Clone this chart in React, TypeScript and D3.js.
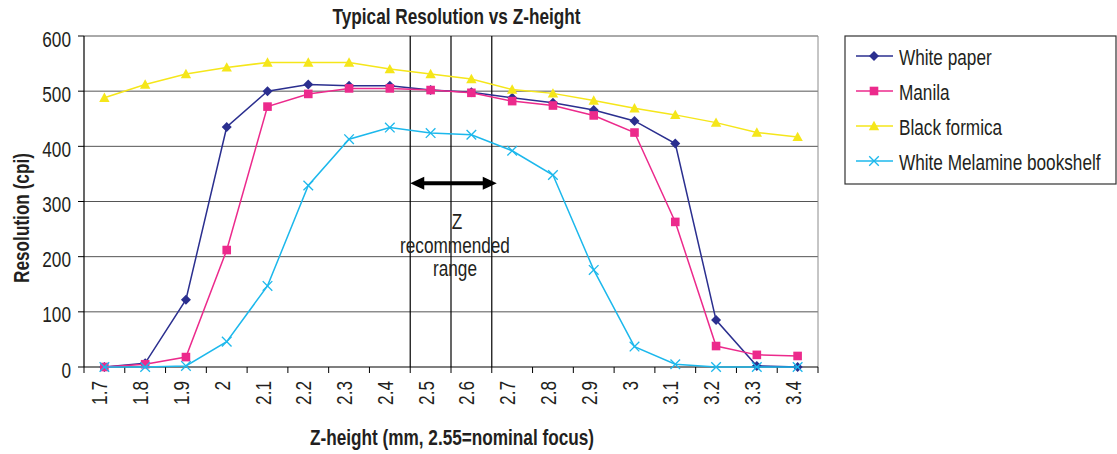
import React from "react";
import * as d3 from "d3";

const categories = ["1.7","1.8","1.9","2","2.1","2.2","2.3","2.4","2.5","2.6","2.7","2.8","2.9","3","3.1","3.2","3.3","3.4"];
const whitePaper = [0,7,122,435,500,512,510,510,502,498,488,479,466,446,405,85,2,0];
const manila = [0,5,18,212,472,495,505,505,502,497,482,474,456,425,263,38,22,20];
const blackFormica = [488,512,531,543,552,552,552,540,531,522,503,496,483,469,457,443,425,417];
const whiteMelamine = [0,0,2,46,147,329,413,434,424,421,392,348,176,37,5,0,0,0];
const yTicks = [0,100,200,300,400,500,600];
const rangeBoundaries = [8,9,10]; // band boundary indices of the Z recommended range lines
const arrowValue = 333;

const series = [
  { name: "White paper", values: whitePaper, color: "#2B2F8F", marker: "diamond" },
  { name: "Manila", values: manila, color: "#EC2A8C", marker: "square" },
  { name: "Black formica", values: blackFormica, color: "#F5E61A", marker: "triangle" },
  { name: "White Melamine bookshelf", values: whiteMelamine, color: "#1CB8EC", marker: "x" },
];

const FONT = "'Liberation Sans', Arial, sans-serif";
const FS = 21.5;
const K = 0.8;

function T({ x, y, rot = 0, anchor = "start", bold = false, size = FS, children }: any) {
  return (
    <text
      transform={`translate(${x},${y}) rotate(${rot}) scale(${K},1)`}
      textAnchor={anchor}
      fontWeight={bold ? "bold" : "normal"}
      fontSize={size}
      fill="#231f20"
    >
      {children}
    </text>
  );
}

function Marker({ type, x, y, color }: { type: string; x: number; y: number; color: string }) {
  if (type === "diamond") {
    const s = 5;
    return <path d={`M${x},${y - s}L${x + s},${y}L${x},${y + s}L${x - s},${y}Z`} fill={color} />;
  }
  if (type === "square") {
    const s = 4.3;
    return <rect x={x - s} y={y - s} width={2 * s} height={2 * s} fill={color} />;
  }
  if (type === "triangle") {
    const s = 5.2;
    return <path d={`M${x},${y - s}L${x + s},${y + s * 0.8}L${x - s},${y + s * 0.8}Z`} fill={color} />;
  }
  const s = 4.8;
  return (
    <g stroke={color} strokeWidth={1.3}>
      <line x1={x - s} y1={y - s} x2={x + s} y2={y + s} />
      <line x1={x - s} y1={y + s} x2={x + s} y2={y - s} />
    </g>
  );
}

export default function App() {
  const W = 1117, H = 454;
  const left = 84, right = 818, top = 36, bottom = 367;
  const x = d3.scaleBand<string>().domain(categories).range([left, right]).paddingInner(0).paddingOuter(0);
  const bw = x.bandwidth();
  const cx = (c: string) => (x(c) as number) + bw / 2;
  const y = d3.scaleLinear().domain([0, 600]).range([bottom, top]);
  const line = d3.line<number>().x((_, i) => cx(categories[i])).y((v) => y(v));
  const boundaries = d3.range(categories.length + 1).map((i) => left + i * bw);
  const ay = y(arrowValue);
  const ax1 = boundaries[rangeBoundaries[0]];
  const ax2 = boundaries[rangeBoundaries[2]] + 5;
  const midX = boundaries[rangeBoundaries[1]] + 4;

  return (
    <svg width={W} height={H} style={{ position: "absolute", left: 0, top: 0, background: "#fff" }} fontFamily={FONT}>
      <rect x={0} y={0} width={W} height={H} fill="#fff" />
      <T x={456.5} y={23.5} anchor="middle" bold>Typical Resolution vs Z-height</T>
      {/* gridlines */}
      {yTicks.filter((t) => t > 0).map((t) => (
        <line key={t} x1={left} x2={right} y1={y(t)} y2={y(t)} stroke="#555" strokeWidth={1} />
      ))}
      <line x1={right} x2={right} y1={top} y2={bottom} stroke="#8c8c8c" strokeWidth={1} />
      {/* range lines */}
      {rangeBoundaries.map((b) => (
        <line key={b} x1={boundaries[b]} x2={boundaries[b]} y1={top} y2={bottom} stroke="#000" strokeWidth={1.2} />
      ))}
      {/* axes */}
      <line x1={left} x2={left} y1={top} y2={bottom} stroke="#000" strokeWidth={1.2} />
      <line x1={left} x2={right} y1={bottom} y2={bottom} stroke="#000" strokeWidth={1.2} />
      {yTicks.map((t) => (
        <g key={t}>
          <line x1={left - 6} x2={left} y1={y(t)} y2={y(t)} stroke="#000" />
          <T x={71} y={y(t) + 10.5} anchor="end">{t}</T>
        </g>
      ))}
      {boundaries.map((b, i) => (
        <line key={i} x1={b} x2={b} y1={bottom} y2={bottom + 6} stroke="#000" />
      ))}
      {categories.map((c) => (
        <T key={c} x={cx(c) + 3} y={381} rot={-90} anchor="end">{c}</T>
      ))}
      <T x={452} y={445} anchor="middle" bold>Z-height (mm, 2.55=nominal focus)</T>
      <T x={28.5} y={218} rot={-90} anchor="middle" bold>Resolution (cpi)</T>
      {/* series */}
      {series.map((s) => (
        <g key={s.name}>
          <path d={line(s.values) as string} fill="none" stroke={s.color} strokeWidth={1.5} />
          {s.values.map((v, i) => (
            <Marker key={i} type={s.marker} x={cx(categories[i])} y={y(v)} color={s.color} />
          ))}
        </g>
      ))}
      {/* arrow */}
      <g>
        <line x1={ax1 + 10} x2={ax2 - 10} y1={ay} y2={ay} stroke="#000" strokeWidth={4} />
        <path d={`M${ax1},${ay}L${ax1 + 14},${ay - 6.5}L${ax1 + 14},${ay + 6.5}Z`} fill="#000" />
        <path d={`M${ax2},${ay}L${ax2 - 14},${ay - 6.5}L${ax2 - 14},${ay + 6.5}Z`} fill="#000" />
      </g>
      <T x={midX + 2} y={229} anchor="middle">Z</T>
      <T x={midX} y={253} anchor="middle">recommended</T>
      <T x={midX} y={276} anchor="middle">range</T>
      {/* legend */}
      <rect x={845} y={36} width={271} height={148} fill="#fff" stroke="#333" strokeWidth={1.2} />
      {series.map((s, i) => {
        const ly = 56 + i * 35;
        return (
          <g key={s.name}>
            <line x1={856} x2={893} y1={ly} y2={ly} stroke={s.color} strokeWidth={1.5} />
            <Marker type={s.marker} x={874} y={ly} color={s.color} />
            <T x={899} y={ly + 9}>{s.name}</T>
          </g>
        );
      })}
    </svg>
  );
}
